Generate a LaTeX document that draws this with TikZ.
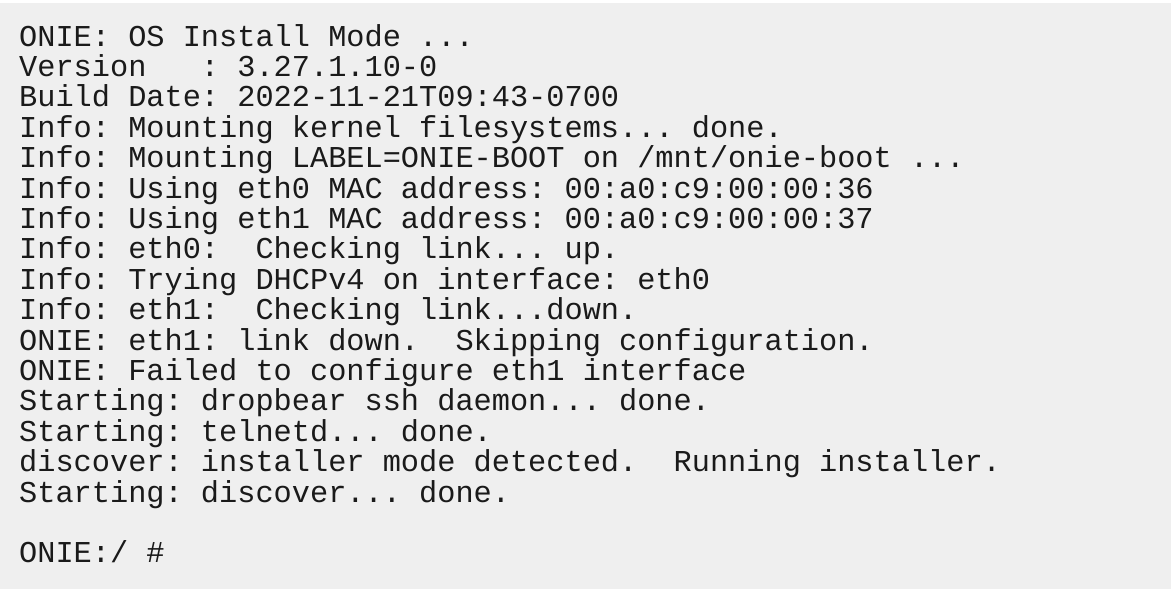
\documentclass[tikz,border=0pt]{standalone}
\usepackage{fontspec}
\setmonofont{Liberation Mono}
\definecolor{termbg}{HTML}{EFEFEF}
\definecolor{termfg}{HTML}{1A1A1A}
\begin{document}
\begin{tikzpicture}[x=1pt,y=1pt,
  ln/.style={anchor=base west,inner sep=0pt,text=termfg,font=\fontsize{30.3}{30}\selectfont\ttfamily}]
\useasboundingbox (0,0) rectangle (1171,-592);
\fill[termbg] (0,-3) rectangle (1171,-589);
\node[ln] (l0) at (19,-46.0) {ONIE: OS Install Mode ...};
\node[ln] (l1) at (19,-76.4) {Version~~~: 3.27.1.10-0};
\node[ln] (l2) at (19,-106.8) {Build Date: 2022-11-21T09:43-0700};
\node[ln] (l3) at (19,-137.2) {Info: Mounting kernel filesystems... done.};
\node[ln] (l4) at (19,-167.6) {Info: Mounting LABEL=ONIE-BOOT on /mnt/onie-boot ...};
\node[ln] (l5) at (19,-198.0) {Info: Using eth0 MAC address: 00:a0:c9:00:00:36};
\node[ln] (l6) at (19,-228.4) {Info: Using eth1 MAC address: 00:a0:c9:00:00:37};
\node[ln] (l7) at (19,-258.8) {Info: eth0:~~Checking link... up.};
\node[ln] (l8) at (19,-289.2) {Info: Trying DHCPv4 on interface: eth0};
\node[ln] (l9) at (19,-319.6) {Info: eth1:~~Checking link...down.};
\node[ln] (l10) at (19,-350.0) {ONIE: eth1: link down.~~Skipping configuration.};
\node[ln] (l11) at (19,-380.4) {ONIE: Failed to configure eth1 interface};
\node[ln] (l12) at (19,-410.8) {Starting: dropbear ssh daemon... done.};
\node[ln] (l13) at (19,-441.2) {Starting: telnetd... done.};
\node[ln] (l14) at (19,-471.6) {discover: installer mode detected.~~Running installer.};
\node[ln] (l15) at (19,-502.0) {Starting: discover... done.};
\node[ln] (l17) at (19,-562.8) {ONIE:/ \#};
\end{tikzpicture}
\end{document}
